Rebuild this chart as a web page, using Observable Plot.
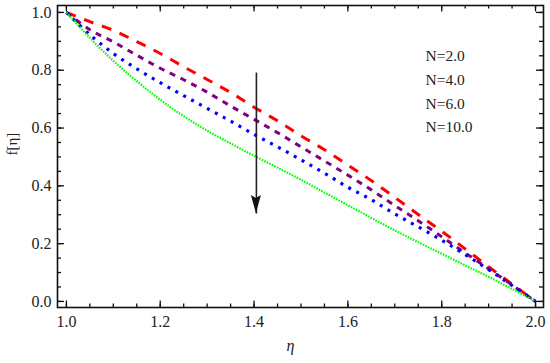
<!DOCTYPE html>
<html><head><meta charset="utf-8">
<script src="https://cdn.jsdelivr.net/npm/d3@7"></script>
<script src="https://cdn.jsdelivr.net/npm/@observablehq/plot@0.6"></script>
<style>body{margin:0;background:#fff}</style>
</head><body><div id="chart"></div>
<script>
const eta = [1.0,1.05,1.1,1.15,1.2,1.25,1.3,1.35,1.4,1.45,1.5,1.55,1.6,1.65,1.7,1.75,1.8,1.85,1.9,1.95,2.0];
const fN2  = [1.0,0.968,0.938,0.899,0.858,0.812,0.768,0.723,0.672,0.625,0.573,0.525,0.472,0.418,0.360,0.301,0.243,0.182,0.120,0.060,0.0];
const fN4  = [1.0,0.940,0.898,0.852,0.807,0.767,0.724,0.676,0.630,0.584,0.535,0.486,0.437,0.386,0.332,0.279,0.224,0.168,0.113,0.057,0.0];
const fN6  = [1.0,0.923,0.858,0.805,0.757,0.712,0.668,0.624,0.578,0.535,0.490,0.444,0.395,0.352,0.303,0.258,0.212,0.162,0.110,0.055,0.0];
const fN10 = [1.0,0.912,0.832,0.762,0.698,0.641,0.591,0.547,0.504,0.463,0.421,0.377,0.333,0.289,0.246,0.205,0.165,0.125,0.085,0.043,0.0];
const legendLabels = ["N=2.0","N=4.0","N=6.0","N=10.0"];
const xMajor = [1.0,1.2,1.4,1.6,1.8,2.0];
const xMinor = d3.range(0,21).map(i => 1 + i*0.05);
const yMajor = [0.0,0.2,0.4,0.6,0.8,1.0];
const yMinor = d3.range(0,21).map(i => i*0.05);
const arrowEta = 1.405, arrowFrom = 0.792, arrowTo = 0.304;

const W = 550, H = 363;
const mL = 57, mR = 7, mT = 5, mB = 56;
const fw = W - mL - mR, fh = H - mT - mB;
const font = "Liberation Serif, Times New Roman, serif";

const rows = s => eta.map((x,i) => ({x, y: s[i]}));
const styles = [
  {data: fN2,  stroke: "#ff0000", dash: "10,9",  w: 3,   cap: "butt"},
  {data: fN4,  stroke: "#800080", dash: "6,6",   w: 3,   cap: "butt"},
  {data: fN6,  stroke: "#0000ff", dash: "3,6",   w: 3.2, cap: "butt"},
  {data: fN10, stroke: "#00ff00", dash: "1.6,1.2", w: 2.2, cap: "butt"}
];

const legendDy = [49, 73, 97, 120];
const marks = [
  ...styles.map(s => Plot.line(rows(s.data), {x:"x", y:"y", stroke: s.stroke, strokeWidth: s.w,
      strokeDasharray: s.dash, strokeLinecap: s.cap, curve: "catmull-rom"})),
  Plot.link([0], {x1: () => arrowEta, x2: () => arrowEta, y1: () => arrowFrom, y2: () => arrowTo,
      stroke: "#222", strokeWidth: 1.6}),
  Plot.tickX(xMinor, {x: d => d, insetTop: fh - 3.5, stroke: "#111", strokeWidth: 1.3}),
  Plot.tickX(xMajor, {x: d => d, insetTop: fh - 6.5, stroke: "#111", strokeWidth: 1.3}),
  Plot.tickX(xMinor, {x: d => d, insetBottom: fh - 3.5, stroke: "#111", strokeWidth: 1.3}),
  Plot.tickX(xMajor, {x: d => d, insetBottom: fh - 6.5, stroke: "#111", strokeWidth: 1.3}),
  Plot.tickY(yMinor, {y: d => d, insetRight: fw - 4, stroke: "#111", strokeWidth: 1.3}),
  Plot.tickY(yMajor, {y: d => d, insetRight: fw - 7, stroke: "#111", strokeWidth: 1.3}),
  Plot.tickY(yMinor, {y: d => d, insetLeft: fw - 4, stroke: "#111", strokeWidth: 1.3}),
  Plot.tickY(yMajor, {y: d => d, insetLeft: fw - 7, stroke: "#111", strokeWidth: 1.3}),
  Plot.frame({stroke: "#111", strokeWidth: 1.6}),
  Plot.axisX(xMajor, {tickSize: 0, tickPadding: 8, tickFormat: d3.format(".1f"), fontSize: 16, fontFamily: font, fill: "#222", label: null}),
  Plot.axisY(yMajor, {tickSize: 0, tickPadding: 6, tickFormat: d3.format(".1f"), fontSize: 16, fontFamily: font, fill: "#222", label: null}),
  Plot.text(["η"], {frameAnchor: "bottom", dx: 290 - (mL + fw/2), dy: 43, text: d => d, fontSize: 16, fontStyle: "italic", fontFamily: font, fill: "#222"}),
  Plot.text(["f[η]"], {frameAnchor: "left", dx: -45, dy: 155 - (mT + fh/2), text: d => d, rotate: -90, fontSize: 15, fontFamily: font, fill: "#222"}),
  ...legendLabels.map((t,i) => Plot.text([t], {frameAnchor: "top-left", dx: 425 - mL, dy: legendDy[i] - mT, text: d => d,
      textAnchor: "start", fontSize: 15.5, fontFamily: font, fill: "#222"}))
];

const plot = Plot.plot({
  width: W, height: H,
  marginLeft: mL, marginRight: mR, marginTop: mT, marginBottom: mB,
  x: {domain: [0.981, 2.017], axis: null},
  y: {domain: [-0.021, 1.024], axis: null},
  style: {background: "#fff"},
  marks
});
document.getElementById("chart").appendChild(plot);

// arrowhead using the plot's scales
const sx = plot.scale("x"), sy = plot.scale("y");
const ax = sx.apply(arrowEta), tipY = sy.apply(arrowTo);
d3.select(plot).append("path")
  .attr("d", `M${ax},${tipY} L${ax-5},${tipY-18} L${ax},${tipY-15} L${ax+5},${tipY-18} Z`)
  .attr("fill", "#111");
</script>
</body></html>
